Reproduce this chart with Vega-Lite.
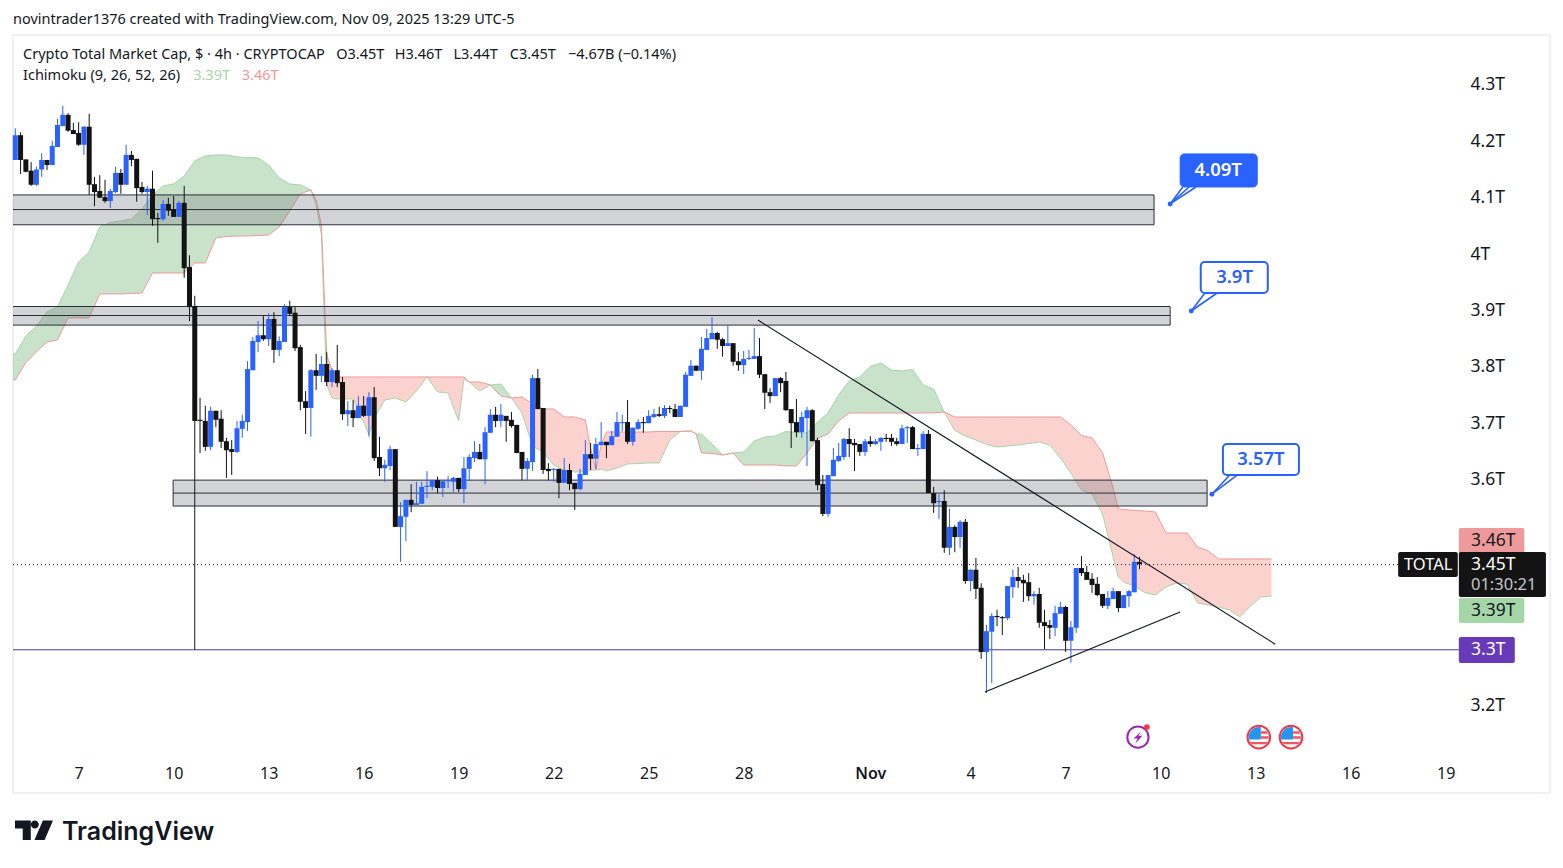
{"$schema":"https://vega.github.io/schema/vega-lite/v6.json","width":1537,"height":758,"autosize":{"type":"none"},"padding":{"left":13,"top":35,"right":13,"bottom":75},"background":"#ffffff","view":{"stroke":"#eef0f5","strokeWidth":2},"config":{"font":"Noto Sans"},
"datasets":{
"candles":[{"i":0,"o":4.167,"h":4.223,"l":4.167,"c":4.211},{"i":1,"o":4.211,"h":4.216,"l":4.142,"c":4.167},{"i":2,"o":4.168,"h":4.168,"l":4.145,"c":4.146},{"i":3,"o":4.148,"h":4.163,"l":4.121,"c":4.123},{"i":4,"o":4.123,"h":4.155,"l":4.121,"c":4.150},{"i":5,"o":4.150,"h":4.179,"l":4.137,"c":4.167},{"i":6,"o":4.167,"h":4.167,"l":4.149,"c":4.158},{"i":7,"o":4.158,"h":4.201,"l":4.158,"c":4.192},{"i":8,"o":4.190,"h":4.240,"l":4.190,"c":4.229},{"i":9,"o":4.227,"h":4.263,"l":4.227,"c":4.247},{"i":10,"o":4.247,"h":4.250,"l":4.217,"c":4.219},{"i":11,"o":4.220,"h":4.233,"l":4.213,"c":4.213},{"i":12,"o":4.215,"h":4.234,"l":4.192,"c":4.194},{"i":13,"o":4.194,"h":4.227,"l":4.176,"c":4.226},{"i":14,"o":4.226,"h":4.249,"l":4.105,"c":4.123},{"i":15,"o":4.124,"h":4.137,"l":4.085,"c":4.110},{"i":16,"o":4.112,"h":4.140,"l":4.100,"c":4.100},{"i":17,"o":4.101,"h":4.132,"l":4.091,"c":4.094},{"i":18,"o":4.094,"h":4.116,"l":4.082,"c":4.112},{"i":19,"o":4.110,"h":4.155,"l":4.108,"c":4.144},{"i":20,"o":4.144,"h":4.151,"l":4.107,"c":4.123},{"i":21,"o":4.123,"h":4.194,"l":4.123,"c":4.176},{"i":22,"o":4.176,"h":4.183,"l":4.156,"c":4.167},{"i":23,"o":4.169,"h":4.169,"l":4.093,"c":4.117},{"i":24,"o":4.119,"h":4.128,"l":4.107,"c":4.110},{"i":25,"o":4.110,"h":4.121,"l":4.069,"c":4.116},{"i":26,"o":4.116,"h":4.148,"l":4.050,"c":4.062},{"i":27,"o":4.064,"h":4.073,"l":4.020,"c":4.062},{"i":28,"o":4.062,"h":4.096,"l":4.059,"c":4.089},{"i":29,"o":4.089,"h":4.100,"l":4.068,"c":4.077},{"i":30,"o":4.080,"h":4.103,"l":4.066,"c":4.066},{"i":31,"o":4.066,"h":4.094,"l":4.066,"c":4.091},{"i":32,"o":4.091,"h":4.121,"l":3.958,"c":3.975},{"i":33,"o":3.977,"h":3.998,"l":3.881,"c":3.906},
{"i":34,"o":3.908,"h":3.926,"l":3.704,"c":3.704},{"i":35,"o":3.706,"h":3.745,"l":3.647,"c":3.704},{"i":36,"o":3.704,"h":3.731,"l":3.651,"c":3.658},{"i":37,"o":3.658,"h":3.729,"l":3.652,"c":3.722},{"i":38,"o":3.722,"h":3.722,"l":3.693,"c":3.706},{"i":39,"o":3.708,"h":3.723,"l":3.656,"c":3.667},{"i":40,"o":3.668,"h":3.674,"l":3.603,"c":3.652},{"i":41,"o":3.654,"h":3.670,"l":3.608,"c":3.649},{"i":42,"o":3.649,"h":3.704,"l":3.647,"c":3.691},{"i":43,"o":3.690,"h":3.715,"l":3.674,"c":3.704},{"i":44,"o":3.702,"h":3.810,"l":3.686,"c":3.796},{"i":45,"o":3.794,"h":3.853,"l":3.794,"c":3.846},{"i":46,"o":3.844,"h":3.881,"l":3.826,"c":3.856},{"i":47,"o":3.856,"h":3.890,"l":3.846,"c":3.849},{"i":48,"o":3.849,"h":3.895,"l":3.837,"c":3.885},{"i":49,"o":3.885,"h":3.897,"l":3.807,"c":3.830},{"i":50,"o":3.830,"h":3.854,"l":3.819,"c":3.846},{"i":51,"o":3.844,"h":3.911,"l":3.844,"c":3.906},{"i":52,"o":3.906,"h":3.917,"l":3.890,"c":3.894},{"i":53,"o":3.896,"h":3.906,"l":3.828,"c":3.833},{"i":54,"o":3.835,"h":3.839,"l":3.723,"c":3.738},{"i":55,"o":3.739,"h":3.757,"l":3.681,"c":3.727},{"i":56,"o":3.727,"h":3.796,"l":3.676,"c":3.794},{"i":57,"o":3.794,"h":3.823,"l":3.759,"c":3.784},{"i":58,"o":3.784,"h":3.819,"l":3.773,"c":3.805},{"i":59,"o":3.805,"h":3.826,"l":3.766,"c":3.773},{"i":60,"o":3.773,"h":3.798,"l":3.764,"c":3.794},{"i":61,"o":3.794,"h":3.839,"l":3.764,"c":3.771},{"i":62,"o":3.773,"h":3.782,"l":3.706,"c":3.716},{"i":63,"o":3.716,"h":3.739,"l":3.695,"c":3.723},{"i":64,"o":3.723,"h":3.741,"l":3.693,"c":3.709},{"i":65,"o":3.709,"h":3.748,"l":3.709,"c":3.731},{"i":66,"o":3.731,"h":3.748,"l":3.711,"c":3.713},{"i":67,"o":3.713,"h":3.755,"l":3.676,"c":3.746},
{"i":68,"o":3.746,"h":3.764,"l":3.633,"c":3.638},{"i":69,"o":3.640,"h":3.676,"l":3.606,"c":3.620},{"i":70,"o":3.620,"h":3.635,"l":3.596,"c":3.626},{"i":71,"o":3.624,"h":3.660,"l":3.617,"c":3.654},{"i":72,"o":3.654,"h":3.654,"l":3.516,"c":3.516},{"i":73,"o":3.516,"h":3.560,"l":3.454,"c":3.535},{"i":74,"o":3.534,"h":3.564,"l":3.491,"c":3.564},{"i":75,"o":3.564,"h":3.592,"l":3.542,"c":3.555},{"i":76,"o":3.555,"h":3.596,"l":3.555,"c":3.558},{"i":77,"o":3.557,"h":3.596,"l":3.557,"c":3.587},{"i":78,"o":3.587,"h":3.615,"l":3.567,"c":3.589},{"i":79,"o":3.587,"h":3.599,"l":3.581,"c":3.599},{"i":80,"o":3.599,"h":3.605,"l":3.576,"c":3.585},{"i":81,"o":3.585,"h":3.597,"l":3.569,"c":3.597},{"i":82,"o":3.597,"h":3.606,"l":3.585,"c":3.599},{"i":83,"o":3.596,"h":3.605,"l":3.578,"c":3.603},{"i":84,"o":3.603,"h":3.603,"l":3.578,"c":3.583},{"i":85,"o":3.583,"h":3.640,"l":3.558,"c":3.620},{"i":86,"o":3.619,"h":3.645,"l":3.599,"c":3.640},{"i":87,"o":3.638,"h":3.668,"l":3.631,"c":3.649},{"i":88,"o":3.649,"h":3.663,"l":3.636,"c":3.636},{"i":89,"o":3.636,"h":3.693,"l":3.592,"c":3.684},{"i":90,"o":3.683,"h":3.725,"l":3.683,"c":3.715},{"i":91,"o":3.715,"h":3.729,"l":3.693,"c":3.704},{"i":92,"o":3.704,"h":3.734,"l":3.693,"c":3.715},{"i":93,"o":3.713,"h":3.713,"l":3.667,"c":3.704},{"i":94,"o":3.706,"h":3.720,"l":3.692,"c":3.695},{"i":95,"o":3.697,"h":3.697,"l":3.647,"c":3.647},{"i":96,"o":3.649,"h":3.649,"l":3.599,"c":3.619},{"i":97,"o":3.619,"h":3.638,"l":3.599,"c":3.633},{"i":98,"o":3.631,"h":3.786,"l":3.615,"c":3.780},{"i":99,"o":3.780,"h":3.796,"l":3.725,"c":3.725},{"i":100,"o":3.727,"h":3.727,"l":3.610,"c":3.617},{"i":101,"o":3.619,"h":3.629,"l":3.599,"c":3.615},{"i":102,"o":3.617,"h":3.620,"l":3.596,"c":3.619},{"i":103,"o":3.619,"h":3.619,"l":3.567,"c":3.594},{"i":104,"o":3.594,"h":3.638,"l":3.594,"c":3.617},{"i":105,"o":3.617,"h":3.628,"l":3.581,"c":3.592},{"i":106,"o":3.594,"h":3.594,"l":3.546,"c":3.583},{"i":107,"o":3.583,"h":3.619,"l":3.581,"c":3.610},{"i":108,"o":3.608,"h":3.670,"l":3.608,"c":3.645},
{"i":109,"o":3.645,"h":3.665,"l":3.617,"c":3.637},{"i":110,"o":3.637,"h":3.674,"l":3.619,"c":3.663},{"i":111,"o":3.661,"h":3.702,"l":3.661,"c":3.667},{"i":112,"o":3.667,"h":3.667,"l":3.638,"c":3.661},{"i":113,"o":3.661,"h":3.686,"l":3.661,"c":3.677},{"i":114,"o":3.676,"h":3.720,"l":3.676,"c":3.702},{"i":115,"o":3.700,"h":3.715,"l":3.686,"c":3.702},{"i":116,"o":3.702,"h":3.741,"l":3.663,"c":3.667},{"i":117,"o":3.667,"h":3.692,"l":3.660,"c":3.692},{"i":118,"o":3.690,"h":3.707,"l":3.688,"c":3.702},{"i":119,"o":3.702,"h":3.711,"l":3.683,"c":3.700},{"i":120,"o":3.700,"h":3.723,"l":3.700,"c":3.713},{"i":121,"o":3.711,"h":3.725,"l":3.709,"c":3.716},{"i":122,"o":3.716,"h":3.729,"l":3.711,"c":3.713},{"i":123,"o":3.713,"h":3.732,"l":3.709,"c":3.727},{"i":124,"o":3.727,"h":3.731,"l":3.718,"c":3.725},{"i":125,"o":3.725,"h":3.734,"l":3.711,"c":3.711},{"i":126,"o":3.711,"h":3.731,"l":3.711,"c":3.731},{"i":127,"o":3.729,"h":3.791,"l":3.729,"c":3.786},{"i":128,"o":3.784,"h":3.812,"l":3.784,"c":3.802},{"i":129,"o":3.802,"h":3.802,"l":3.793,"c":3.793},{"i":130,"o":3.793,"h":3.853,"l":3.777,"c":3.832},{"i":131,"o":3.830,"h":3.867,"l":3.830,"c":3.851},{"i":132,"o":3.849,"h":3.888,"l":3.849,"c":3.860},{"i":133,"o":3.860,"h":3.862,"l":3.832,"c":3.848},{"i":134,"o":3.849,"h":3.851,"l":3.818,"c":3.837},{"i":135,"o":3.837,"h":3.873,"l":3.837,"c":3.842},{"i":136,"o":3.842,"h":3.842,"l":3.802,"c":3.809},{"i":137,"o":3.810,"h":3.826,"l":3.793,"c":3.803},{"i":138,"o":3.803,"h":3.828,"l":3.787,"c":3.814},{"i":139,"o":3.814,"h":3.830,"l":3.812,"c":3.816},{"i":140,"o":3.814,"h":3.869,"l":3.814,"c":3.819},{"i":141,"o":3.819,"h":3.851,"l":3.780,"c":3.786},{"i":142,"o":3.787,"h":3.787,"l":3.725,"c":3.754},{"i":143,"o":3.755,"h":3.762,"l":3.736,"c":3.748},{"i":144,"o":3.748,"h":3.780,"l":3.748,"c":3.780},{"i":145,"o":3.780,"h":3.782,"l":3.755,"c":3.771},{"i":146,"o":3.775,"h":3.791,"l":3.722,"c":3.723},
{"i":147,"o":3.725,"h":3.725,"l":3.656,"c":3.700},{"i":148,"o":3.702,"h":3.743,"l":3.675,"c":3.684},{"i":149,"o":3.684,"h":3.720,"l":3.674,"c":3.711},{"i":150,"o":3.709,"h":3.729,"l":3.624,"c":3.723},{"i":151,"o":3.723,"h":3.725,"l":3.668,"c":3.668},{"i":152,"o":3.670,"h":3.674,"l":3.581,"c":3.590},{"i":153,"o":3.592,"h":3.608,"l":3.535,"c":3.539},{"i":154,"o":3.539,"h":3.608,"l":3.534,"c":3.608},{"i":155,"o":3.606,"h":3.656,"l":3.606,"c":3.635},{"i":156,"o":3.633,"h":3.665,"l":3.631,"c":3.642},{"i":157,"o":3.640,"h":3.674,"l":3.635,"c":3.672},{"i":158,"o":3.672,"h":3.691,"l":3.640,"c":3.663},{"i":159,"o":3.665,"h":3.672,"l":3.615,"c":3.661},{"i":160,"o":3.663,"h":3.663,"l":3.642,"c":3.649},{"i":161,"o":3.649,"h":3.672,"l":3.642,"c":3.668},{"i":162,"o":3.668,"h":3.677,"l":3.658,"c":3.663},{"i":163,"o":3.663,"h":3.672,"l":3.661,"c":3.668},{"i":164,"o":3.667,"h":3.675,"l":3.651,"c":3.674},{"i":165,"o":3.674,"h":3.681,"l":3.667,"c":3.672},{"i":166,"o":3.674,"h":3.681,"l":3.660,"c":3.667},{"i":167,"o":3.668,"h":3.674,"l":3.660,"c":3.663},{"i":168,"o":3.663,"h":3.697,"l":3.663,"c":3.691},{"i":169,"o":3.691,"h":3.695,"l":3.665,"c":3.693},{"i":170,"o":3.693,"h":3.695,"l":3.654,"c":3.654},{"i":171,"o":3.654,"h":3.663,"l":3.642,"c":3.656},{"i":172,"o":3.654,"h":3.686,"l":3.654,"c":3.681},{"i":173,"o":3.681,"h":3.688,"l":3.576,"c":3.576},{"i":174,"o":3.576,"h":3.587,"l":3.541,"c":3.558},{"i":175,"o":3.560,"h":3.574,"l":3.530,"c":3.562},{"i":176,"o":3.562,"h":3.581,"l":3.470,"c":3.479},{"i":177,"o":3.479,"h":3.548,"l":3.466,"c":3.516},{"i":178,"o":3.516,"h":3.519,"l":3.471,"c":3.498},{"i":179,"o":3.498,"h":3.528,"l":3.479,"c":3.525},
{"i":180,"o":3.525,"h":3.530,"l":3.415,"c":3.420},{"i":181,"o":3.420,"h":3.441,"l":3.402,"c":3.440},{"i":182,"o":3.440,"h":3.461,"l":3.388,"c":3.406},{"i":183,"o":3.408,"h":3.416,"l":3.282,"c":3.294},{"i":184,"o":3.294,"h":3.342,"l":3.221,"c":3.331},{"i":185,"o":3.330,"h":3.363,"l":3.239,"c":3.358},{"i":186,"o":3.358,"h":3.369,"l":3.340,"c":3.356},{"i":187,"o":3.356,"h":3.358,"l":3.324,"c":3.354},{"i":188,"o":3.354,"h":3.411,"l":3.351,"c":3.411},{"i":189,"o":3.409,"h":3.440,"l":3.390,"c":3.427},{"i":190,"o":3.427,"h":3.445,"l":3.408,"c":3.420},{"i":191,"o":3.422,"h":3.431,"l":3.383,"c":3.416},{"i":192,"o":3.418,"h":3.434,"l":3.385,"c":3.393},{"i":193,"o":3.393,"h":3.402,"l":3.378,"c":3.397},{"i":194,"o":3.397,"h":3.408,"l":3.337,"c":3.346},{"i":195,"o":3.347,"h":3.369,"l":3.299,"c":3.340},{"i":196,"o":3.342,"h":3.351,"l":3.317,"c":3.337},{"i":197,"o":3.337,"h":3.376,"l":3.322,"c":3.363},{"i":198,"o":3.362,"h":3.383,"l":3.362,"c":3.374},{"i":199,"o":3.374,"h":3.376,"l":3.294,"c":3.314},{"i":200,"o":3.314,"h":3.349,"l":3.275,"c":3.338},{"i":201,"o":3.337,"h":3.443,"l":3.328,"c":3.443},{"i":202,"o":3.443,"h":3.464,"l":3.429,"c":3.434},{"i":203,"o":3.436,"h":3.447,"l":3.422,"c":3.422},{"i":204,"o":3.424,"h":3.434,"l":3.399,"c":3.413},{"i":205,"o":3.415,"h":3.427,"l":3.393,"c":3.395},{"i":206,"o":3.397,"h":3.397,"l":3.372,"c":3.376},{"i":207,"o":3.376,"h":3.402,"l":3.370,"c":3.390},{"i":208,"o":3.388,"h":3.408,"l":3.388,"c":3.402},{"i":209,"o":3.402,"h":3.402,"l":3.365,"c":3.372},{"i":210,"o":3.372,"h":3.395,"l":3.372,"c":3.395},{"i":211,"o":3.393,"h":3.404,"l":3.374,"c":3.402},{"i":212,"o":3.400,"h":3.468,"l":3.400,"c":3.454},{"i":213,"o":3.454,"h":3.463,"l":3.441,"c":3.450}],
"cloud":[{"i":-1,"a":3.8228,"b":3.7767,"k":"bull"},{"i":0,"a":3.8228,"b":3.7767,"k":"bull"},{"i":2,"a":3.8547,"b":3.8077,"k":"bull"},{"i":4,"a":3.8725,"b":3.8264,"k":"bull"},{"i":6,"a":3.8973,"b":3.8441,"k":"bull"},{"i":8,"a":3.9062,"b":3.8476,"k":"bull"},{"i":10,"a":3.9452,"b":3.8867,"k":"bull"},{"i":12,"a":3.986,"b":3.8867,"k":"bull"},{"i":14,"a":4.0038,"b":3.8867,"k":"bull"},{"i":16,"a":4.0481,"b":3.9293,"k":"bull"},{"i":18,"a":4.0561,"b":3.9293,"k":"bull"},{"i":20,"a":4.0588,"b":3.9293,"k":"bull"},{"i":22,"a":4.0623,"b":3.9301,"k":"bull"},{"i":24,"a":4.0801,"b":3.931,"k":"bull"},{"i":26,"a":4.1049,"b":3.9665,"k":"bull"},{"i":28,"a":4.1209,"b":3.9665,"k":"bull"},{"i":30,"a":4.1244,"b":3.9665,"k":"bull"},{"i":32,"a":4.1386,"b":3.9665,"k":"bull"},{"i":34,"a":4.1652,"b":3.9843,"k":"bull"},{"i":36,"a":4.1741,"b":3.9843,"k":"bull"},{"i":38,"a":4.1759,"b":4.0286,"k":"bull"},{"i":40,"a":4.1759,"b":4.0313,"k":"bull"},{"i":42,"a":4.1723,"b":4.0322,"k":"bull"},{"i":44,"a":4.1714,"b":4.0322,"k":"bull"},{"i":46,"a":4.1706,"b":4.033,"k":"bull"},{"i":48,"a":4.1581,"b":4.0339,"k":"bull"},{"i":50,"a":4.1351,"b":4.0481,"k":"bull"},{"i":52,"a":4.1244,"b":4.0765,"k":"bull"},{"i":54,"a":4.1227,"b":4.1067,"k":"bull"},{"i":56,"a":4.1138,"b":4.1138,"k":"both"},{"i":57,"a":4.0872,"b":4.096,"k":"bear"},{"i":58,"a":4.0339,"b":4.0517,"k":"bear"},{"i":59,"a":3.7678,"b":3.821,"k":"bear"},{"i":60,"a":3.7447,"b":3.7944,"k":"bear"},{"i":61,"a":3.743,"b":3.782,"k":"bear"},{"i":62,"a":3.743,"b":3.782,"k":"bear"},{"i":64,"a":3.743,"b":3.782,"k":"bear"},{"i":66,"a":3.7021,"b":3.782,"k":"bear"},{"i":67,"a":3.6791,"b":3.782,"k":"bear"},{"i":68,"a":3.7092,"b":3.782,"k":"bear"},{"i":70,"a":3.7412,"b":3.782,"k":"bear"},{"i":72,"a":3.7447,"b":3.782,"k":"bear"},{"i":74,"a":3.7376,"b":3.782,"k":"bear"},{"i":76,"a":3.7571,"b":3.782,"k":"bear"},{"i":78,"a":3.782,"b":3.782,"k":"both"},{"i":80,"a":3.7554,"b":3.782,"k":"bear"},{"i":82,"a":3.7536,"b":3.782,"k":"bear"},{"i":84,"a":3.7039,"b":3.782,"k":"bear"},{"i":85,"a":3.7784,"b":3.782,"k":"bear"},{"i":86,"a":3.7731,"b":3.7731,"k":"both"},{"i":88,"a":3.7571,"b":3.7731,"k":"bear"},{"i":90,"a":3.7678,"b":3.7678,"k":"both"},{"i":92,"a":3.7696,"b":3.7483,"k":"bull"},{"i":94,"a":3.7447,"b":3.7447,"k":"both"},{"i":96,"a":3.7181,"b":3.7465,"k":"bear"},{"i":98,"a":3.6596,"b":3.7341,"k":"bear"},{"i":100,"a":3.6489,"b":3.7252,"k":"bear"},{"i":102,"a":3.6258,"b":3.7252,"k":"bear"},{"i":104,"a":3.617,"b":3.711,"k":"bear"},{"i":106,"a":3.6134,"b":3.711,"k":"bear"},{"i":108,"a":3.6134,"b":3.7057,"k":"bear"},{"i":109,"a":3.617,"b":3.656,"k":"bear"},{"i":110,"a":3.617,"b":3.617,"k":"both"},{"i":111,"a":3.6188,"b":3.6613,"k":"bear"},{"i":112,"a":3.6152,"b":3.6844,"k":"bear"},{"i":114,"a":3.6205,"b":3.6844,"k":"bear"},{"i":116,"a":3.6276,"b":3.6844,"k":"bear"},{"i":118,"a":3.6285,"b":3.6844,"k":"bear"},{"i":120,"a":3.6294,"b":3.6844,"k":"bear"},{"i":122,"a":3.6294,"b":3.6853,"k":"bear"},{"i":124,"a":3.6702,"b":3.6853,"k":"bear"},{"i":126,"a":3.6853,"b":3.6853,"k":"both"},{"i":128,"a":3.6862,"b":3.6862,"k":"both"},{"i":129,"a":3.6808,"b":3.6808,"k":"both"},{"i":130,"a":3.6808,"b":3.6471,"k":"bull"},{"i":132,"a":3.6631,"b":3.6463,"k":"bull"},{"i":134,"a":3.6436,"b":3.6436,"k":"both"},{"i":136,"a":3.6471,"b":3.6471,"k":"both"},{"i":138,"a":3.6489,"b":3.6258,"k":"bull"},{"i":140,"a":3.6684,"b":3.6258,"k":"bull"},{"i":142,"a":3.6755,"b":3.6258,"k":"bull"},{"i":144,"a":3.6773,"b":3.6258,"k":"bull"},{"i":146,"a":3.6853,"b":3.6241,"k":"bull"},{"i":148,"a":3.6835,"b":3.6241,"k":"bull"},{"i":150,"a":3.6826,"b":3.6471,"k":"bull"},{"i":152,"a":3.7021,"b":3.6738,"k":"bull"},{"i":154,"a":3.7181,"b":3.6808,"k":"bull"},{"i":156,"a":3.7501,"b":3.7039,"k":"bull"},{"i":158,"a":3.7749,"b":3.7181,"k":"bull"},{"i":160,"a":3.782,"b":3.7181,"k":"bull"},{"i":162,"a":3.8006,"b":3.7181,"k":"bull"},{"i":164,"a":3.8068,"b":3.7181,"k":"bull"},{"i":166,"a":3.7944,"b":3.7181,"k":"bull"},{"i":168,"a":3.7926,"b":3.7181,"k":"bull"},{"i":170,"a":3.7953,"b":3.7181,"k":"bull"},{"i":172,"a":3.7678,"b":3.7181,"k":"bull"},{"i":174,"a":3.7607,"b":3.7181,"k":"bull"},{"i":176,"a":3.7199,"b":3.7199,"k":"both"},{"i":178,"a":3.6871,"b":3.711,"k":"bear"},{"i":180,"a":3.6773,"b":3.711,"k":"bear"},{"i":182,"a":3.6702,"b":3.711,"k":"bear"},{"i":184,"a":3.6622,"b":3.711,"k":"bear"},{"i":186,"a":3.6578,"b":3.711,"k":"bear"},{"i":188,"a":3.6596,"b":3.711,"k":"bear"},{"i":190,"a":3.6613,"b":3.711,"k":"bear"},{"i":192,"a":3.664,"b":3.711,"k":"bear"},{"i":194,"a":3.6667,"b":3.711,"k":"bear"},{"i":196,"a":3.6613,"b":3.711,"k":"bear"},{"i":198,"a":3.6383,"b":3.711,"k":"bear"},{"i":200,"a":3.6117,"b":3.6968,"k":"bear"},{"i":202,"a":3.5815,"b":3.6782,"k":"bear"},{"i":204,"a":3.5744,"b":3.6738,"k":"bear"},{"i":206,"a":3.5389,"b":3.6471,"k":"bear"},{"i":208,"a":3.4626,"b":3.585,"k":"bear"},{"i":209,"a":3.4271,"b":3.5478,"k":"bear"},{"i":210,"a":3.4182,"b":3.5469,"k":"bear"},{"i":212,"a":3.4112,"b":3.5451,"k":"bear"},{"i":214,"a":3.3996,"b":3.5442,"k":"bear"},{"i":216,"a":3.3952,"b":3.5425,"k":"bear"},{"i":218,"a":3.4094,"b":3.5052,"k":"bear"},{"i":220,"a":3.4165,"b":3.5052,"k":"bear"},{"i":222,"a":3.4147,"b":3.5052,"k":"bear"},{"i":224,"a":3.381,"b":3.4804,"k":"bear"},{"i":226,"a":3.3774,"b":3.4733,"k":"bear"},{"i":228,"a":3.3739,"b":3.4591,"k":"bear"},{"i":230,"a":3.3686,"b":3.4591,"k":"bear"},{"i":232,"a":3.3561,"b":3.4591,"k":"bear"},{"i":234,"a":3.3757,"b":3.4591,"k":"bear"},{"i":236,"a":3.3917,"b":3.4591,"k":"bear"},{"i":238,"a":3.3934,"b":3.4591,"k":"bear"}],
"zones":[{"i0":-3,"i1":215.75,"top":4.105,"mid":4.079,"bot":4.052},{"i0":-3,"i1":218.8,"top":3.907,"mid":3.891,"bot":3.874},{"i0":29.9,"i1":225.8,"top":3.599,"mid":3.576,"bot":3.553}]
},
"layer":[
{"data":{"name":"cloud"},"transform":[{"filter":"datum.k!='bear'"}],"mark":{"type":"area","fill":"#43a047","opacity":0.29,"clip":true},"encoding":{"x":{"field":"i","type":"quantitative","title":null,"scale":{"domain":[-0.436,290.77],"nice":false,"zero":false,"padding":0},"axis":{"values":[12,30,48,66,84,102,120,138,162,181,199,217,235,253,271],"labelExpr":"{12:'7',30:'10',48:'13',66:'16',84:'19',102:'22',120:'25',138:'28',162:'Nov',181:'4',199:'7',217:'10',235:'13',253:'16',271:'19'}[datum.value]","domain":false,"ticks":false,"grid":false,"title":null,"offset":-28,"labelPadding":0,"labelFontSize":16,"labelColor":"#131722","labelFont":"Noto Sans","labelAngle":0,"labelFontWeight":{"condition":{"test":"datum.value==162","value":600},"value":400}}},"y":{"field":"a","type":"quantitative","title":null,"scale":{"domain":[3.0439,4.3887],"nice":false,"zero":false},"axis":{"orient":"right","values":[3.2,3.3,3.4,3.5,3.6,3.7,3.8,3.9,4,4.1,4.2,4.3],"labelExpr":"datum.value==3.3||datum.value==3.4||datum.value==3.5?'':(datum.value==4?'4T':format(datum.value,'.1f')+'T')","domain":false,"ticks":false,"grid":false,"title":null,"offset":-80,"labelPadding":0,"labelAlign":"left","labelFontSize":17.5,"labelColor":"#131722","labelFont":"Noto Sans"}},"y2":{"field":"b"}}},
{"data":{"name":"cloud"},"transform":[{"filter":"datum.k!='bull'"}],"mark":{"type":"area","fill":"#f44336","opacity":0.24,"clip":true},"encoding":{"x":{"field":"i","type":"quantitative"},"y":{"field":"a","type":"quantitative"},"y2":{"field":"b"}}},
{"data":{"name":"cloud"},"mark":{"type":"line","stroke":"#a5d6a7","strokeWidth":1,"clip":true},"encoding":{"x":{"field":"i","type":"quantitative"},"y":{"field":"a","type":"quantitative"}}},
{"data":{"name":"cloud"},"mark":{"type":"line","stroke":"#ef9a9a","strokeWidth":1,"clip":true},"encoding":{"x":{"field":"i","type":"quantitative"},"y":{"field":"b","type":"quantitative"}}},
{"data":{"name":"zones"},"mark":{"type":"rect","fill":"#787b86","fillOpacity":0.33,"stroke":"#2a2e39","strokeWidth":1,"clip":true},"encoding":{"x":{"field":"i0","type":"quantitative"},"x2":{"field":"i1"},"y":{"field":"top","type":"quantitative"},"y2":{"field":"bot"}}},
{"data":{"name":"zones"},"mark":{"type":"rule","stroke":"#2a2e39","strokeWidth":1,"clip":true},"encoding":{"x":{"field":"i0","type":"quantitative"},"x2":{"field":"i1"},"y":{"field":"mid","type":"quantitative"}}},
{"data":{"values":[{"i":-0.436,"i2":273.5,"v":3.298}]},"mark":{"type":"rule","stroke":"#4b3a96","strokeWidth":1},"encoding":{"x":{"field":"i","type":"quantitative"},"x2":{"field":"i2"},"y":{"field":"v","type":"quantitative"}}},
{"data":{"values":[{"i":34,"v":3.9,"v2":3.298}]},"mark":{"type":"rule","stroke":"#131722","strokeWidth":1},"encoding":{"x":{"field":"i","type":"quantitative"},"y":{"field":"v","type":"quantitative"},"y2":{"field":"v2"}}},
{"data":{"values":[{"i":-0.436,"i2":262,"v":3.449}]},"mark":{"type":"rule","stroke":"#131722","strokeWidth":1,"strokeDash":[1,3]},"encoding":{"x":{"field":"i","type":"quantitative"},"x2":{"field":"i2"},"y":{"field":"v","type":"quantitative"}}},
{"data":{"name":"candles"},"mark":{"type":"rule","strokeWidth":1},"encoding":{"x":{"field":"i","type":"quantitative"},"y":{"field":"h","type":"quantitative"},"y2":{"field":"l"},"color":{"condition":{"test":"datum.c>=datum.o","value":"#2962ff"},"value":"#131313"}}},
{"data":{"name":"candles"},"mark":{"type":"bar","size":5},"encoding":{"x":{"field":"i","type":"quantitative"},"y":{"field":"o","type":"quantitative"},"y2":{"field":"c"},"color":{"condition":{"test":"datum.c>=datum.o","value":"#2962ff"},"value":"#131313"}}},
{"data":{"values":[{"t":"fall","i":140.7,"v":3.883,"i2":238.7,"v2":3.308},{"t":"rise","i":183.7,"v":3.223,"i2":220.7,"v2":3.365}]},"mark":{"type":"rule","stroke":"#131722","strokeWidth":1.2},"encoding":{"x":{"field":"i","type":"quantitative"},"x2":{"field":"i2"},"y":{"field":"v","type":"quantitative"},"y2":{"field":"v2"}}},
{"data":{"values":[{"i":218.8,"v":4.089,"i2":221.2,"v2":4.119},{"i":218.8,"v":4.089,"i2":222.4,"v2":4.119},{"i":218.8,"v":4.089,"i2":223.7,"v2":4.119},{"i":222.8,"v":3.899,"i2":225.4,"v2":3.931},{"i":222.8,"v":3.899,"i2":227.7,"v2":3.931},{"i":226.7,"v":3.574,"i2":230.1,"v2":3.608},{"i":226.7,"v":3.574,"i2":231.5,"v2":3.608}]},"mark":{"type":"rule","stroke":"#2962ff","strokeWidth":1.6},"encoding":{"x":{"field":"i","type":"quantitative"},"x2":{"field":"i2"},"y":{"field":"v","type":"quantitative"},"y2":{"field":"v2"}}},
{"data":{"values":[{"i":218.8,"v":4.089},{"i":222.8,"v":3.899},{"i":226.7,"v":3.574}]},"mark":{"type":"point","filled":true,"fill":"#2962ff","stroke":null,"opacity":1,"size":24,"shape":"circle"},"encoding":{"x":{"field":"i","type":"quantitative"},"y":{"field":"v","type":"quantitative"}}},
{"data":{"values":[{"i0":220.7,"i1":235.3,"top":4.1777,"bot":4.1191}]},"mark":{"type":"rect","fill":"#2962ff","stroke":"#2962ff","cornerRadius":4},"encoding":{"x":{"field":"i0","type":"quantitative"},"x2":{"field":"i1"},"y":{"field":"top","type":"quantitative"},"y2":{"field":"bot"}}},
{"data":{"values":[{"i0":224.6,"i1":237.3,"top":3.986,"bot":3.931},{"i0":228.8,"i1":243.2,"top":3.663,"bot":3.608}]},"mark":{"type":"rect","fill":"#ffffff","stroke":"#2962ff","strokeWidth":2,"cornerRadius":4},"encoding":{"x":{"field":"i0","type":"quantitative"},"x2":{"field":"i1"},"y":{"field":"top","type":"quantitative"},"y2":{"field":"bot"}}},
{"data":{"values":[{"i":227.9,"v":4.149,"t":"4.09T"}]},"mark":{"type":"text","color":"#ffffff","fontSize":18.5,"fontWeight":600,"font":"Noto Sans","align":"center","baseline":"middle"},"encoding":{"x":{"field":"i","type":"quantitative"},"y":{"field":"v","type":"quantitative"},"text":{"field":"t"}}},
{"data":{"values":[{"i":231,"v":3.959,"t":"3.9T"},{"i":236,"v":3.636,"t":"3.57T"}]},"mark":{"type":"text","color":"#2962ff","fontSize":18.5,"fontWeight":600,"font":"Noto Sans","align":"center","baseline":"middle"},"encoding":{"x":{"field":"i","type":"quantitative"},"y":{"field":"v","type":"quantitative"},"text":{"field":"t"}}},
{"data":{"values":[{"i0":273.5,"i1":285.9,"top":3.514,"bot":3.466}]},"mark":{"type":"rect","fill":"#ef9a9a","cornerRadius":2},"encoding":{"x":{"field":"i0","type":"quantitative"},"x2":{"field":"i1"},"y":{"field":"top","type":"quantitative"},"y2":{"field":"bot"}}},
{"data":{"values":[{"i0":273.5,"i1":285.9,"top":3.39,"bot":3.3455}]},"mark":{"type":"rect","fill":"#a5d6a7","cornerRadius":2},"encoding":{"x":{"field":"i0","type":"quantitative"},"x2":{"field":"i1"},"y":{"field":"top","type":"quantitative"},"y2":{"field":"bot"}}},
{"data":{"values":[{"i0":273.5,"i1":284.1,"top":3.3207,"bot":3.2745}]},"mark":{"type":"rect","fill":"#673ab7","cornerRadius":2},"encoding":{"x":{"field":"i0","type":"quantitative"},"x2":{"field":"i1"},"y":{"field":"top","type":"quantitative"},"y2":{"field":"bot"}}},
{"data":{"values":[{"i0":273.5,"i1":290,"top":3.4715,"bot":3.3916},{"i0":262,"i1":273.3,"top":3.4715,"bot":3.427}]},"mark":{"type":"rect","fill":"#131313","cornerRadius":2},"encoding":{"x":{"field":"i0","type":"quantitative"},"x2":{"field":"i1"},"y":{"field":"top","type":"quantitative"},"y2":{"field":"bot"}}},
{"data":{"values":[{"i":275.8,"v":3.491,"t":"3.46T"},{"i":275.8,"v":3.367,"t":"3.39T"}]},"mark":{"type":"text","color":"#131722","fontSize":17.5,"font":"Noto Sans","align":"left","baseline":"middle"},"encoding":{"x":{"field":"i","type":"quantitative"},"y":{"field":"v","type":"quantitative"},"text":{"field":"t"}}},
{"data":{"values":[{"i":275.8,"v":3.448,"t":"3.45T"},{"i":275.8,"v":3.298,"t":"3.3T"}]},"mark":{"type":"text","color":"#ffffff","fontSize":17.5,"font":"Noto Sans","align":"left","baseline":"middle"},"encoding":{"x":{"field":"i","type":"quantitative"},"y":{"field":"v","type":"quantitative"},"text":{"field":"t"}}},
{"data":{"values":[{"i":275.8,"v":3.413,"t":"01:30:21"}]},"mark":{"type":"text","color":"#c4c6cc","fontSize":16.5,"font":"Noto Sans","align":"left","baseline":"middle"},"encoding":{"x":{"field":"i","type":"quantitative"},"y":{"field":"v","type":"quantitative"},"text":{"field":"t"}}},
{"data":{"values":[{"i":267.7,"v":3.448,"t":"TOTAL"}]},"mark":{"type":"text","color":"#ffffff","fontSize":16.5,"font":"Noto Sans","align":"center","baseline":"middle"},"encoding":{"x":{"field":"i","type":"quantitative"},"y":{"field":"v","type":"quantitative"},"text":{"field":"t"}}},
{"data":{"values":[{"i":-0.436,"v":4.4155,"t":"novintrader1376 created with TradingView.com, Nov 09, 2025 13:29 UTC-5"},{"i":1.46,"v":4.353,"t":"Crypto Total Market Cap, $ · 4h · CRYPTOCAP"},{"i":60.8,"v":4.353,"t":"O3.45T"},{"i":71.9,"v":4.353,"t":"H3.46T"},{"i":83,"v":4.353,"t":"L3.44T"},{"i":93.7,"v":4.353,"t":"C3.45T"},{"i":104.7,"v":4.353,"t":"−4.67B (−0.14%)"},{"i":1.46,"v":4.316,"t":"Ichimoku (9, 26, 52, 26)"}]},"mark":{"type":"text","color":"#131722","fontSize":14.5,"font":"Noto Sans","align":"left","baseline":"middle"},"encoding":{"x":{"field":"i","type":"quantitative"},"y":{"field":"v","type":"quantitative"},"text":{"field":"t"}}},
{"data":{"values":[{"i":33.7,"v":4.316,"t":"3.39T"}]},"mark":{"type":"text","color":"#a5d6a7","fontSize":14.5,"font":"Noto Sans","align":"left","baseline":"middle"},"encoding":{"x":{"field":"i","type":"quantitative"},"y":{"field":"v","type":"quantitative"},"text":{"field":"t"}}},
{"data":{"values":[{"i":42.9,"v":4.316,"t":"3.46T"}]},"mark":{"type":"text","color":"#ef9a9a","fontSize":14.5,"font":"Noto Sans","align":"left","baseline":"middle"},"encoding":{"x":{"field":"i","type":"quantitative"},"y":{"field":"v","type":"quantitative"},"text":{"field":"t"}}},
{"data":{"values":[{"i":8.85,"v":2.9745,"t":"TradingView"}]},"mark":{"type":"text","color":"#131722","fontSize":25,"fontWeight":600,"font":"Inter","align":"left","baseline":"middle"},"encoding":{"x":{"field":"i","type":"quantitative"},"y":{"field":"v","type":"quantitative"},"text":{"field":"t"}}},
{"data":{"values":[{"i":3.54,"v":2.978}]},"mark":{"type":"point","filled":true,"fill":"#131722","stroke":null,"opacity":1,"size":1444,"shape":"M-1 -0.513L-0.168 -0.513L-0.168 0.513L-0.593 0.513L-0.593 -0.088L-1 -0.088ZM-0.166 -0.3A0.21 0.21 0 1 0 0.254 -0.3A0.21 0.21 0 1 0 -0.166 -0.3ZM0.469 -0.513L1 -0.513L0.558 0.513L0.027 0.513Z"},"encoding":{"x":{"field":"i","type":"quantitative"},"y":{"field":"v","type":"quantitative"}}},
{"data":{"values":[{"i":212.7,"v":3.143}]},"mark":{"type":"point","filled":false,"stroke":"#9c27b0","strokeWidth":2,"opacity":1,"size":452,"shape":"circle"},"encoding":{"x":{"field":"i","type":"quantitative"},"y":{"field":"v","type":"quantitative"}}},
{"data":{"values":[{"i":212.7,"v":3.143}]},"mark":{"type":"point","filled":true,"fill":"#9c27b0","stroke":null,"opacity":1,"size":300,"shape":"M0.35 -0.65L-0.5 0.15L-0.05 0.15L-0.3 0.75L0.5 -0.15L0.05 -0.15Z"},"encoding":{"x":{"field":"i","type":"quantitative"},"y":{"field":"v","type":"quantitative"}}},
{"data":{"values":[{"i":214.4,"v":3.161}]},"mark":{"type":"point","filled":true,"fill":"#f23645","stroke":null,"opacity":1,"size":32,"shape":"circle"},"encoding":{"x":{"field":"i","type":"quantitative"},"y":{"field":"v","type":"quantitative"}}},
{"data":{"values":[{"i":235.6,"v":3.143},{"i":241.7,"v":3.143}]},"mark":{"type":"point","filled":true,"fill":"#ffffff","stroke":"#f23645","strokeWidth":2,"opacity":1,"size":510,"shape":"circle"},"encoding":{"x":{"field":"i","type":"quantitative"},"y":{"field":"v","type":"quantitative"}}},
{"data":{"values":[{"i":235.6,"v":3.143},{"i":241.7,"v":3.143}]},"mark":{"type":"point","filled":true,"fill":"#f7525f","stroke":null,"opacity":1,"size":400,"shape":"M0.2 -0.6L0.8 -0.6L0.9 -0.33L0.2 -0.33ZM0.2 -0.1L0.98 -0.1L0.98 0.15L0.2 0.15ZM-0.87 0.48L0.87 0.48L0.7 0.72L-0.7 0.72Z"},"encoding":{"x":{"field":"i","type":"quantitative"},"y":{"field":"v","type":"quantitative"}}},
{"data":{"values":[{"i":235.6,"v":3.143},{"i":241.7,"v":3.143}]},"mark":{"type":"point","filled":true,"fill":"#2196f3","stroke":null,"opacity":1,"size":400,"shape":"M0.2 -0.98L0.2 0.23L-0.98 0.23A1 1 0 0 1 0.2 -0.98Z"},"encoding":{"x":{"field":"i","type":"quantitative"},"y":{"field":"v","type":"quantitative"}}}
]}
